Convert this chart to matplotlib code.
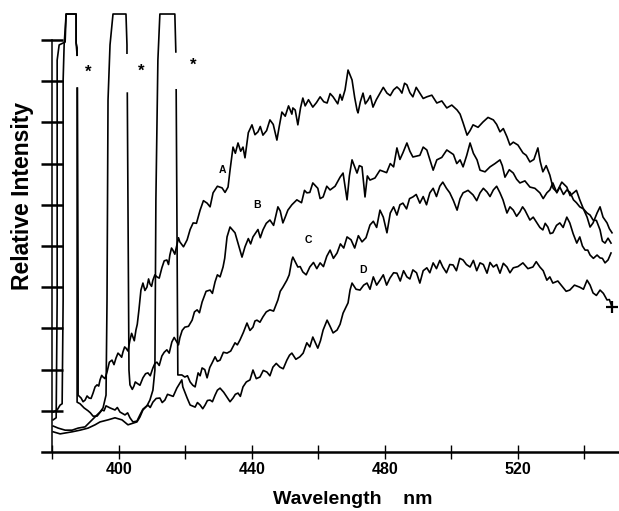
import numpy as np
import matplotlib
matplotlib.use("Agg")
import matplotlib.pyplot as plt

plt.rcParams['font.family'] = ['Liberation Sans', 'DejaVu Sans']

gap = np.nan  # the scan lost the thin right edge of each Raman band just under the top

# emission spectra (wavelength nm, relative intensity); tall clipped spikes are the Raman bands
wl_a = [380.2, 381.1, 381.4, 381.4, 382.0, 383.8, 384.1, 387.1, 387.1, 387.4, 387.4, gap, 387.5, 387.7,
        387.7, 388.6, 389.2,
        389.8, 390.4, 391.0, 391.6, 392.2, 392.8, 393.4, 393.9, 394.3, 394.8, 395.2, 395.8, 396.4, 397.1,
        397.9, 398.5, 399.1, 399.7, 400.3, 400.8, 401.2, 401.7, 402.1, 402.7, 403.3, 403.8, 404.2, 404.6,
        405.1, 405.5, 406.0, 406.6, 407.2, 407.8, 408.4, 408.9, 409.3, 409.8, 410.2, 410.8, 411.4, 412.1,
        412.9, 413.6, 414.4, 414.9, 415.3, 415.8, 416.2, 416.8, 417.4, 417.9, 418.3, 419.4, 420.5, 421.4,
        422.3, 423.3, 424.4, 425.4, 426.5, 427.4, 428.3, 429.6, 431.0, 431.9, 432.8, 433.4, 434.3, 435.0,
        435.8, 436.6, 437.3, 437.9, 438.9, 440.0, 440.9, 441.8, 442.5, 443.3, 444.4, 445.4, 446.4, 447.5,
        448.2, 449.0, 450.0, 451.0, 452.0, 452.3, 453.0, 453.8, 454.6, 455.3, 456.0, 457.0, 458.3, 459.4,
        460.5, 461.6, 462.6, 463.5, 464.4, 465.8, 466.5, 467.1, 468.0, 468.9, 470.1, 470.9, 471.6, 471.9,
        472.6, 473.4, 474.1, 474.9, 475.6, 476.4, 477.4, 478.5, 479.5, 480.6, 481.6, 482.6, 483.6, 484.4,
        485.1, 485.9, 486.6, 487.5, 488.4, 489.4, 490.5, 491.5, 492.6, 494.1, 495.6, 497.1, 498.6, 500.1,
        501.7, 502.6, 503.5, 504.7, 505.6, 506.5, 508.0, 509.5, 511.0, 512.6, 513.6, 514.6, 515.6, 516.7,
        517.6, 518.6, 520.0, 521.5, 522.5, 523.6, 524.8, 526.0, 526.7, 527.5, 528.5, 529.6, 530.6, 531.7,
        533.2, 534.7, 535.7, 536.7, 537.6, 538.6, 539.7, 540.8, 541.7, 542.6, 543.6, 544.7, 545.4, 546.2,
        547.1, 548.0]
int_a = [0.78, 0.83, 3.69, 9.51, 9.88, 9.95, 10.63, 10.63, 9.93, 9.81, 9.63, gap, 8.83, 3.69,
         1.38, 1.31, 1.22,
         1.26, 1.36, 1.31, 1.30, 1.43, 1.58, 1.63, 1.60, 1.75, 1.86, 1.82, 1.78, 1.94, 2.18,
         2.23, 2.12, 2.28, 2.40, 2.35, 2.30, 2.43, 2.55, 2.52, 2.45, 2.72, 2.88, 2.79, 2.70,
         2.96, 3.10, 3.45, 3.93, 4.10, 3.92, 4.00, 4.20, 4.08, 4.02, 4.17, 4.30, 4.25, 4.22,
         4.47, 4.64, 4.66, 4.55, 4.78, 4.95, 4.90, 4.80, 5.02, 5.20, 5.10, 4.98, 5.15, 5.40,
         5.56, 5.55, 5.87, 6.10, 6.04, 5.95, 6.29, 6.45, 6.41, 6.30, 6.43, 6.84, 7.40, 7.25,
         7.50, 7.30, 7.40, 7.14, 7.75, 7.94, 7.70, 7.77, 7.90, 7.69, 7.80, 8.06, 7.95, 7.57,
         7.90, 8.25, 8.15, 8.40, 8.20, 8.35, 8.30, 7.94, 8.35, 8.59, 8.40, 8.55, 8.37, 8.48,
         8.62, 8.50, 8.47, 8.70, 8.62, 8.45, 8.68, 8.54, 8.79, 9.27, 9.03, 8.60, 8.30, 8.23,
         8.50, 8.71, 8.45, 8.54, 8.65, 8.37, 8.55, 8.71, 8.85, 8.71, 8.65, 8.79, 8.86, 8.80,
         8.71, 8.95, 8.91, 8.72, 8.62, 8.85, 8.71, 8.58, 8.62, 8.66, 8.47, 8.52, 8.35, 8.42,
         8.30, 8.20, 7.99, 7.69, 7.80, 7.94, 7.88, 8.01, 8.12, 8.06, 7.95, 7.77, 7.85, 7.65,
         7.45, 7.52, 7.45, 7.26, 7.20, 7.04, 7.10, 7.38, 7.05, 6.80, 6.95, 6.72, 6.40, 6.31,
         6.55, 6.43, 6.22, 6.29, 6.35, 6.12, 5.90, 5.80, 5.75, 5.63, 5.62, 5.39, 5.12, 5.07,
         5.19, 5.07]

wl_b = [380.2, 381.7, 383.8, 385.9, 387.7, 389.8, 391.9, 393.4, 394.3, 395.2, 396.1, 396.4, 396.7, 397.3,
        398.2, 402.1, 402.4, 402.4, gap, 402.5, 402.7, 403.0, 403.3, 404.0, 404.5, 404.9, 405.4, 406.3,
        407.2, 408.0, 408.7,
        409.4, 410.2, 410.8, 411.4, 412.1, 412.9, 413.6, 414.4, 415.1, 415.9, 416.6, 417.4, 417.9, 418.3,
        419.0, 419.8, 420.9, 422.0, 422.7, 423.5, 424.2, 425.0, 426.2, 427.4, 428.1, 428.9, 429.6, 430.4,
        431.3, 431.8, 432.5, 433.4, 434.9, 435.8, 436.4, 437.0, 437.9, 438.9, 439.6, 440.3, 441.8, 442.5,
        443.3, 444.3, 445.4, 446.5, 447.8, 448.5, 449.3, 450.0, 450.8, 452.0, 453.5, 454.9, 455.8, 456.5,
        457.4, 458.3, 459.8, 460.5, 461.4, 462.5, 463.5, 465.0, 466.5, 467.4, 468.6, 469.3, 470.1, 471.6,
        472.3, 473.1, 474.0, 474.7, 475.5, 477.0, 478.5, 480.5, 481.6, 482.6, 483.6, 484.5, 485.4, 486.6,
        487.5, 488.4, 490.5, 491.5, 492.6, 493.5, 494.5, 495.6, 497.1, 498.6, 500.6, 501.6, 502.6, 503.5,
        504.6, 505.6, 506.6, 507.7, 508.6, 510.1, 511.6, 513.1, 514.6, 515.3, 516.1, 517.4, 518.6, 519.6,
        520.6, 522.1, 523.6, 525.1, 526.6, 527.6, 528.7, 529.6, 530.5, 531.7, 532.6, 533.7, 534.7, 535.7,
        536.7, 537.6, 538.6, 539.7, 540.8, 541.7, 542.6, 543.8, 544.7, 545.6, 546.8, 547.5, 548.3]
int_b = [0.63, 0.58, 0.53, 0.53, 0.58, 0.61, 0.78, 0.90, 0.97, 1.07, 1.38, 3.69, 8.54, 9.88,
         10.63, 10.63, 9.88, 9.68, gap, 8.71, 6.12, 1.99, 1.63, 1.52, 1.60, 1.70, 1.67, 1.62,
         1.80, 1.90, 1.92,
         1.85, 2.04, 2.15, 2.18, 2.10, 2.33, 2.42, 2.48, 2.40, 2.67, 2.78, 2.67, 2.60, 2.77,
         2.95, 3.03, 3.05, 3.20, 3.40, 3.45, 3.38, 3.64, 3.90, 3.93, 3.85, 4.13, 4.30, 4.25,
         4.49, 4.70, 5.22, 5.46, 5.32, 5.07, 4.90, 4.73, 4.98, 5.18, 5.05, 5.22, 5.40, 5.20,
         5.39, 5.55, 5.63, 5.50, 5.95, 5.85, 5.56, 5.70, 5.87, 6.00, 6.12, 6.05, 6.35, 6.29,
         6.30, 6.53, 6.40, 6.15, 6.19, 6.45, 6.36, 6.45, 6.67, 6.77, 6.12, 6.70, 7.09, 6.77,
         6.95, 6.92, 6.19, 6.70, 6.60, 6.65, 6.84, 6.78, 7.00, 6.92, 7.38, 7.10, 7.26, 7.50,
         7.30, 7.16, 7.20, 7.40, 7.33, 7.10, 6.84, 7.09, 7.15, 7.33, 7.22, 7.00, 7.09, 6.92,
         7.20, 7.50, 7.25, 7.09, 6.84, 6.80, 6.92, 7.00, 7.09, 6.95, 6.67, 6.85, 6.77, 6.62,
         6.53, 6.58, 6.43, 6.40, 6.29, 6.15, 6.29, 6.36, 6.53, 6.29, 6.43, 6.25, 6.36, 6.30,
         6.12, 6.05, 5.95, 5.90, 5.70, 5.46, 5.56, 5.80, 5.95, 5.70, 5.56, 5.42, 5.32]

wl_c = [380.2, 382.3, 383.8, 385.9, 388.3, 390.7, 392.8, 394.3, 396.7, 398.8, 400.9, 402.7, 404.2, 405.4,
        406.3, 407.2, 408.4, 409.3, 410.2, 410.8, 411.1, 411.7, 412.3, 416.8, 417.1, 417.1, gap, 417.2,
        417.4, 417.7, 418.9,
        419.8, 420.6, 421.4, 422.2, 422.9, 423.8, 424.4, 425.0, 425.8, 426.5, 427.3, 428.0, 428.9, 429.6,
        430.4, 431.4, 432.5, 433.6, 434.9, 435.6, 436.4, 437.4, 438.5, 439.4, 440.3, 440.9, 441.5, 442.4,
        443.3, 444.3, 445.4, 446.5, 447.8, 448.5, 449.3, 450.5, 451.2, 452.0, 452.3, 453.8, 454.5, 455.3,
        456.3, 457.4, 458.5, 459.5, 460.5, 461.5, 462.5, 463.5, 464.5, 465.6, 466.6, 467.6, 468.6, 469.8,
        470.9, 472.0, 473.1, 474.3, 475.5, 476.5, 477.5, 478.5, 479.5, 480.6, 481.6, 482.6, 483.6, 484.5,
        485.4, 486.5, 487.4, 488.4, 489.4, 490.5, 491.5, 492.5, 493.5, 494.5, 495.5, 496.5, 497.4, 498.5,
        499.5, 500.6, 501.7, 502.6, 503.5, 505.0, 506.5, 507.6, 508.6, 509.6, 510.7, 511.6, 512.6, 513.6,
        514.6, 515.5, 516.7, 517.6, 518.6, 519.6, 520.6, 521.4, 522.1, 523.6, 524.6, 525.7, 526.6, 527.5,
        528.2, 529.0, 529.7, 530.5, 531.6, 532.6, 533.6, 534.7, 535.6, 536.6, 537.7, 538.6, 539.4, 540.2,
        541.0, 541.7, 542.7, 543.8, 544.7, 545.4, 546.2, 547.1, 548.0]
int_c = [0.49, 0.44, 0.46, 0.49, 0.53, 0.58, 0.66, 0.73, 0.78, 0.83, 0.78, 0.66, 0.70, 0.73,
         0.85, 1.02, 1.12, 1.26, 1.50, 1.99, 6.12, 9.51, 10.63, 10.63, 9.76, 9.71, gap, 8.79,
         6.12, 1.87, 1.87,
         1.82, 1.85, 1.70, 1.62, 1.58, 1.92, 1.85, 2.04, 2.00, 1.80, 2.05, 2.16, 2.31, 2.20,
         2.23, 2.42, 2.40, 2.45, 2.65, 2.60, 2.72, 2.90, 3.13, 2.95, 3.03, 3.18, 3.20, 3.15,
         3.28, 3.40, 3.45, 3.42, 3.69, 3.90, 4.00, 4.17, 4.30, 4.66, 4.73, 4.49, 4.50, 4.37,
         4.30, 4.49, 4.60, 4.45, 4.59, 4.50, 4.75, 4.90, 4.70, 4.83, 5.05, 4.95, 5.22, 5.15,
         4.95, 5.25, 5.10, 5.20, 5.51, 5.60, 5.45, 5.87, 5.70, 5.32, 5.80, 5.95, 5.75, 6.00,
         6.04, 5.90, 6.15, 6.19, 6.25, 6.04, 6.20, 6.00, 6.29, 6.40, 6.20, 6.45, 6.55, 6.40,
         6.29, 6.10, 5.87, 6.15, 6.29, 6.35, 6.24, 6.10, 6.29, 6.40, 6.31, 6.20, 6.36, 6.45,
         6.29, 6.12, 5.80, 5.95, 5.87, 5.72, 5.83, 5.95, 5.87, 5.63, 5.70, 5.56, 5.45, 5.39,
         5.55, 5.46, 5.30, 5.32, 5.50, 5.56, 5.45, 5.70, 5.56, 5.30, 5.07, 5.22, 5.00, 4.90,
         4.90, 4.78, 4.70, 4.78, 4.71, 4.70, 4.59, 4.66, 4.83]

wl_d = [380.2, 381.4, 382.3, 382.9, 383.2, 383.2, 383.5, 384.1, 387.1, 387.1, 387.4, gap, 387.4, 387.4,
        388.3, 389.5,
        390.7, 391.4, 392.2, 393.4, 394.9, 395.5, 396.1, 397.3, 398.8, 399.5, 400.3, 401.8, 402.6, 403.3,
        404.2, 405.4, 406.3, 407.2, 408.7, 409.4, 410.2, 411.2, 412.3, 413.0, 413.8, 414.6, 415.3, 416.3,
        417.4, 418.9, 419.2, 420.5, 421.4, 422.9, 423.6, 424.4, 425.2, 425.9, 426.6, 427.4, 428.1, 428.9,
        429.6, 430.4, 431.5, 432.5, 433.4, 434.3, 435.0, 435.8, 436.5, 437.3, 438.3, 439.4, 440.3, 441.3,
        442.4, 443.4, 444.5, 445.4, 446.3, 447.3, 448.4, 449.4, 450.5, 451.3, 452.0, 453.2, 454.4, 455.4,
        456.5, 457.4, 458.3, 459.8, 460.6, 461.4, 462.6, 463.5, 464.4, 465.6, 466.5, 467.4, 468.9, 469.5,
        470.1, 471.3, 472.5, 473.6, 474.6, 475.5, 476.5, 477.5, 478.5, 479.5, 480.5, 481.5, 482.6, 483.6,
        484.6, 485.6, 486.6, 487.5, 488.4, 489.5, 490.5, 491.5, 492.6, 493.5, 494.5, 495.5, 496.5, 497.4,
        498.5, 499.5, 500.5, 501.5, 502.5, 503.5, 504.5, 505.6, 506.6, 507.6, 508.6, 509.6, 510.7, 511.6,
        512.6, 513.6, 514.6, 515.6, 516.7, 517.6, 518.6, 520.0, 521.5, 523.0, 524.5, 525.5, 526.6, 527.6,
        528.7, 529.6, 530.5, 532.0, 533.5, 534.5, 535.6, 537.0, 538.6, 539.7, 540.8, 541.7, 542.6, 543.6,
        544.7, 545.7, 546.8, 547.5, 548.3]
int_d = [0.97, 1.02, 1.14, 1.17, 3.69, 9.03, 9.88, 10.63, 10.63, 9.93, 9.63, gap, 8.83, 1.21,
         1.17, 1.07,
         1.00, 0.95, 0.87, 0.87, 1.02, 1.00, 1.12, 1.07, 1.02, 1.08, 0.97, 0.90, 0.95, 0.83,
         0.73, 0.75, 0.90, 1.04, 1.14, 1.08, 1.21, 1.30, 1.31, 1.20, 1.26, 1.40, 1.38, 1.35,
         1.55, 1.75, 1.58, 1.31, 1.14, 1.09, 1.20, 1.14, 1.05, 1.14, 1.25, 1.26, 1.22, 1.38,
         1.50, 1.55, 1.45, 1.33, 1.22, 1.31, 1.40, 1.43, 1.35, 1.58, 1.70, 1.75, 1.99, 1.78,
         1.82, 1.98, 1.94, 1.85, 2.06, 2.15, 2.06, 2.02, 2.23, 2.35, 2.40, 2.25, 2.31, 2.40,
         2.65, 2.55, 2.79, 2.52, 2.70, 2.96, 3.20, 3.05, 2.89, 2.96, 3.10, 3.37, 3.62, 3.93,
         4.10, 3.95, 3.93, 4.05, 4.10, 3.95, 4.25, 4.05, 4.17, 4.30, 4.05, 4.22, 4.35, 4.34,
         4.15, 4.40, 4.25, 4.20, 4.42, 4.35, 4.10, 4.40, 4.47, 4.35, 4.59, 4.45, 4.65, 4.49,
         4.35, 4.55, 4.54, 4.40, 4.70, 4.66, 4.55, 4.49, 4.65, 4.40, 4.59, 4.55, 4.34, 4.60,
         4.49, 4.55, 4.34, 4.58, 4.49, 4.35, 4.47, 4.50, 4.59, 4.45, 4.49, 4.62, 4.49, 4.40,
         4.17, 4.25, 4.10, 4.15, 4.00, 3.90, 3.93, 4.05, 4.00, 3.95, 4.17, 4.05, 3.86, 3.80,
         3.93, 3.85, 3.69, 3.70, 3.52]

curve_labels = ["A", "B", "C", "D"]
label_pos = [(431.0, 6.84), (441.5, 6.00), (456.8, 5.15), (473.4, 4.42)]
raman_marks = [(390.7, 9.22), (406.6, 9.25), (422.3, 9.39)]

fig = plt.figure(figsize=(6.19, 5.11), dpi=100)
ax = fig.add_axes([52.5 / 619, 59 / 511, 566.5 / 619, 452 / 511])

for wl, inten in [(wl_a, int_a), (wl_b, int_b), (wl_c, int_c), (wl_d, int_d)]:
    ax.plot(wl, inten, color="black", lw=1.2)
ax.plot(wl_d[-1], int_d[-1], marker="+", color="black", ms=9, mew=1.6)

for lab, (x, y) in zip(curve_labels, label_pos):
    ax.text(x, y, lab, fontsize=7.5, fontweight="bold", ha="center", va="center")
for x, y in raman_marks:
    ax.text(x, y, "*", fontsize=12, fontweight="bold", ha="center", va="center")

ax.set_xlim(380, 550.4)
ax.set_ylim(0, 10.97)
ax.set_xticks(np.arange(380, 541, 20))
ax.set_xticklabels(["", "400", "", "440", "", "480", "", "520", ""])
ax.set_yticks(np.arange(1, 11))
ax.set_yticklabels([])

for s in ["top", "right"]:
    ax.spines[s].set_visible(False)
ax.spines["left"].set_bounds(0, 10)
ax.spines["left"].set_linewidth(1.1)
ax.spines["bottom"].set_bounds(376.8, 550.4)
ax.spines["bottom"].set_linewidth(1.8)

ax.tick_params(axis="y", direction="inout", length=16.5, width=1.8)
ax.tick_params(axis="x", direction="inout", length=10.5, width=1.0, pad=2,
               labelsize=11.5)
for t in ax.get_xticklabels():
    t.set_fontweight("bold")

fig.text(22 / 619, 1 - 196 / 511, "Relative Intensity", rotation=90, fontsize=16.5,
         fontweight="bold", ha="center", va="center")
fig.text(353 / 619, 1 - 499 / 511, "Wavelength    nm", fontsize=14,
         fontweight="bold", ha="center", va="center")

fig.savefig("out.png", dpi=100)
